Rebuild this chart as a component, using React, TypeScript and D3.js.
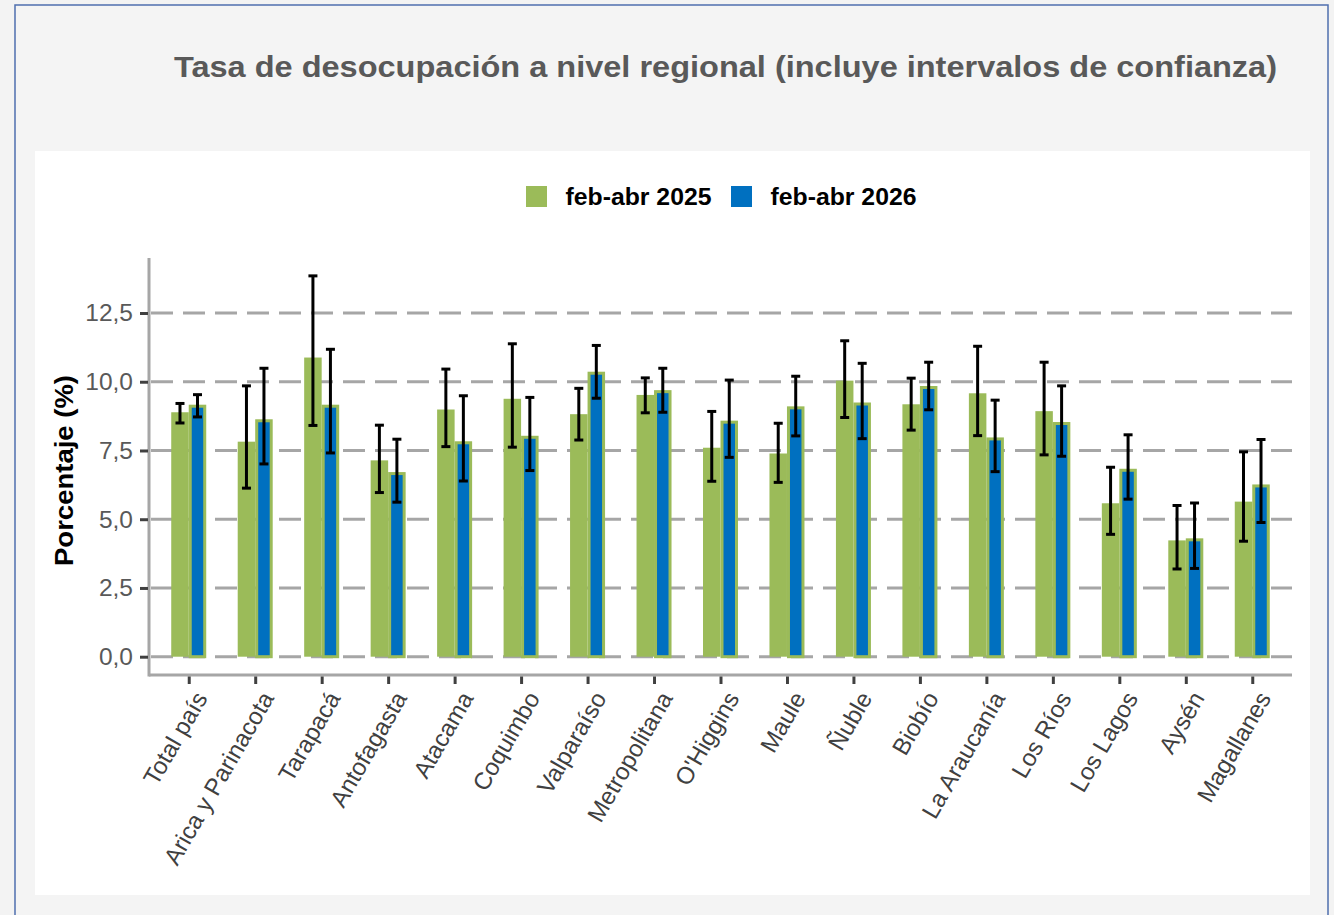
import { useEffect, useRef } from "react";
import * as d3 from "d3";

const regions = [
  "Total país",
  "Arica y Parinacota",
  "Tarapacá",
  "Antofagasta",
  "Atacama",
  "Coquimbo",
  "Valparaíso",
  "Metropolitana",
  "O'Higgins",
  "Maule",
  "Ñuble",
  "Biobío",
  "La Araucanía",
  "Los Ríos",
  "Los Lagos",
  "Aysén",
  "Magallanes",
];

const series = ["feb-abr 2025", "feb-abr 2026"];

const rate2025 = [8.89, 7.82, 10.88, 7.14, 8.99, 9.38, 8.82, 9.52, 7.6, 7.39, 10.04, 9.18, 9.58, 8.93, 5.58, 4.23, 5.64];
const low2025 = [8.5, 6.13, 8.41, 5.97, 7.64, 7.62, 7.88, 8.87, 6.38, 6.34, 8.7, 8.24, 8.04, 7.34, 4.45, 3.19, 4.2];
const high2025 = [9.21, 9.85, 13.85, 8.42, 10.46, 11.38, 9.76, 10.14, 8.92, 8.49, 11.49, 10.13, 11.29, 10.71, 6.89, 5.5, 7.45];

const rate2026 = [9.11, 8.58, 9.11, 6.66, 7.78, 7.98, 10.31, 9.64, 8.53, 9.05, 9.19, 9.79, 7.92, 8.48, 6.78, 4.25, 6.21];
const low2026 = [8.72, 7.01, 7.41, 5.62, 6.39, 6.77, 9.4, 8.89, 7.25, 8.03, 7.93, 8.98, 6.73, 7.29, 5.73, 3.21, 4.88];
const high2026 = [9.53, 10.49, 11.18, 7.91, 9.49, 9.43, 11.32, 10.49, 10.06, 10.2, 10.67, 10.71, 9.33, 9.85, 8.07, 5.59, 7.9];

const yTicks = [0, 2.5, 5, 7.5, 10, 12.5];

const GREEN = "#9bbb59";
const BLUE = "#0070c0";
const FONT = "Liberation Sans, Arial, sans-serif";

export default function App() {
  const svgRef = useRef<SVGSVGElement>(null);

  useEffect(() => {
    document.body.style.margin = "0";

    const W = 1334;
    const H = 915;
    const svg = d3.select(svgRef.current);
    svg.selectAll("*").remove();
    svg.attr("width", W).attr("height", H);

    // page + frame
    svg.append("rect").attr("width", W).attr("height", H).attr("fill", "#f3f3f3");
    svg
      .append("rect")
      .attr("x", 15)
      .attr("y", 5)
      .attr("width", 1313)
      .attr("height", 930)
      .attr("fill", "#f4f4f4")
      .attr("stroke", "#4f6fae")
      .attr("stroke-width", 1.5);
    svg
      .append("rect")
      .attr("x", 35)
      .attr("y", 151)
      .attr("width", 1275)
      .attr("height", 744)
      .attr("fill", "#ffffff");

    svg
      .append("text")
      .attr("x", 174)
      .attr("y", 77)
      .attr("font-family", FONT)
      .attr("font-weight", "bold")
      .attr("font-size", 29)
      .attr("fill", "#595959")
      .attr("textLength", 1103)
      .attr("lengthAdjust", "spacingAndGlyphs")
      .text("Tasa de desocupación a nivel regional (incluye intervalos de confianza)");

    // legend
    const legendX = [526, 731];
    const legendColors = [GREEN, BLUE];
    series.forEach((s, i) => {
      svg
        .append("rect")
        .attr("x", legendX[i])
        .attr("y", 186)
        .attr("width", 21)
        .attr("height", 21)
        .attr("fill", legendColors[i]);
      svg
        .append("text")
        .attr("x", legendX[i] + 39.5)
        .attr("y", 204.5)
        .attr("font-family", FONT)
        .attr("font-weight", "bold")
        .attr("font-size", 23.5)
        .attr("textLength", 146)
        .attr("lengthAdjust", "spacingAndGlyphs")
        .attr("fill", "#000")
        .text(s);
    });

    const left = 149;
    const right = 1292;
    const axisY = 675;

    const x = d3.scaleBand<string>().domain(regions).range([156, 1286]);
    const x1 = d3.scaleBand<string>().domain(series).range([-18, 17]);
    const y = d3.scaleLinear().domain([0, 14.5]).range([656.7, 258]);
    const cx = (r: string) => (x(r) ?? 0) + x.bandwidth() / 2;

    // dashed grid
    svg
      .append("g")
      .selectAll("line")
      .data(yTicks)
      .enter()
      .append("line")
      .attr("x1", left)
      .attr("x2", right)
      .attr("y1", (d) => y(d))
      .attr("y2", (d) => y(d))
      .attr("stroke", "#a6a6a6")
      .attr("stroke-width", 3)
      .attr("stroke-dasharray", "22 10")
      .attr("stroke-dashoffset", -2);

    const rows = regions.map((r, i) => ({
      r,
      v: [rate2025[i], rate2026[i]],
      lo: [low2025[i], low2026[i]],
      hi: [high2025[i], high2026[i]],
    }));

    // bars
    const bars = svg.append("g");
    bars
      .selectAll("rect.g25")
      .data(rows)
      .enter()
      .append("rect")
      .attr("class", "g25")
      .attr("x", (d) => cx(d.r) + (x1(series[0]) ?? 0))
      .attr("width", x1.bandwidth())
      .attr("y", (d) => y(d.v[0]))
      .attr("height", (d) => y(0) - y(d.v[0]))
      .attr("fill", GREEN);

    bars
      .selectAll("rect.b26")
      .data(rows)
      .enter()
      .append("rect")
      .attr("class", "b26")
      .attr("x", (d) => cx(d.r) + (x1(series[1]) ?? 0) + 1.5)
      .attr("width", x1.bandwidth() - 3)
      .attr("y", (d) => y(d.v[1]))
      .attr("height", (d) => y(0) - y(d.v[1]))
      .attr("fill", BLUE)
      .attr("stroke", GREEN)
      .attr("stroke-width", 3);

    // confidence intervals
    const err = svg.append("g").attr("stroke", "#000").attr("stroke-width", 3);
    series.forEach((s, k) => {
      const off = (x1(s) ?? 0) + x1.bandwidth() / 2;
      rows.forEach((d) => {
        const ex = cx(d.r) + off;
        err
          .append("line")
          .attr("x1", ex)
          .attr("x2", ex)
          .attr("y1", y(d.lo[k]))
          .attr("y2", y(d.hi[k]));
        [d.lo[k], d.hi[k]].forEach((v) => {
          err
            .append("line")
            .attr("x1", ex - 4.5)
            .attr("x2", ex + 4.5)
            .attr("y1", y(v))
            .attr("y2", y(v));
        });
      });
    });

    // axes lines
    svg
      .append("line")
      .attr("x1", left)
      .attr("x2", left)
      .attr("y1", 258)
      .attr("y2", axisY + 1.5)
      .attr("stroke", "#a6a6a6")
      .attr("stroke-width", 3);
    svg
      .append("line")
      .attr("x1", left)
      .attr("x2", right)
      .attr("y1", axisY)
      .attr("y2", axisY)
      .attr("stroke", "#a6a6a6")
      .attr("stroke-width", 3);

    // y axis ticks + labels
    const yAxis = svg
      .append("g")
      .attr("transform", `translate(${left - 1},0)`)
      .call(
        d3
          .axisLeft(y)
          .tickValues(yTicks)
          .tickSize(8)
          .tickPadding(7)
          .tickFormat((d) => (d as number).toFixed(1).replace(".", ","))
      );
    yAxis.select(".domain").remove();
    yAxis.selectAll(".tick line").attr("stroke", "#404040").attr("stroke-width", 3);
    yAxis
      .selectAll(".tick text")
      .attr("fill", "#595959")
      .attr("font-size", 24.5)
      .attr("font-family", FONT);

    // x ticks + rotated labels
    const xg = svg.append("g");
    xg.selectAll("line")
      .data(regions)
      .enter()
      .append("line")
      .attr("x1", (d) => cx(d))
      .attr("x2", (d) => cx(d))
      .attr("y1", axisY + 1.5)
      .attr("y2", axisY + 9)
      .attr("stroke", "#404040")
      .attr("stroke-width", 3);
    xg.selectAll("text")
      .data(regions)
      .enter()
      .append("text")
      .attr("transform", (d) => `translate(${cx(d) + 19},698) rotate(-60)`)
      .attr("text-anchor", "end")
      .attr("font-family", FONT)
      .attr("font-size", 24)
      .attr("fill", "#404040")
      .text((d) => d);

    // y label
    svg
      .append("text")
      .attr("transform", "translate(73,470.5) rotate(-90)")
      .attr("text-anchor", "middle")
      .attr("font-family", FONT)
      .attr("font-weight", "bold")
      .attr("font-size", 26)
      .attr("textLength", 191)
      .attr("lengthAdjust", "spacingAndGlyphs")
      .attr("fill", "#000")
      .text("Porcentaje (%)");
  }, []);

  return <svg ref={svgRef} style={{ display: "block" }} />;
}
